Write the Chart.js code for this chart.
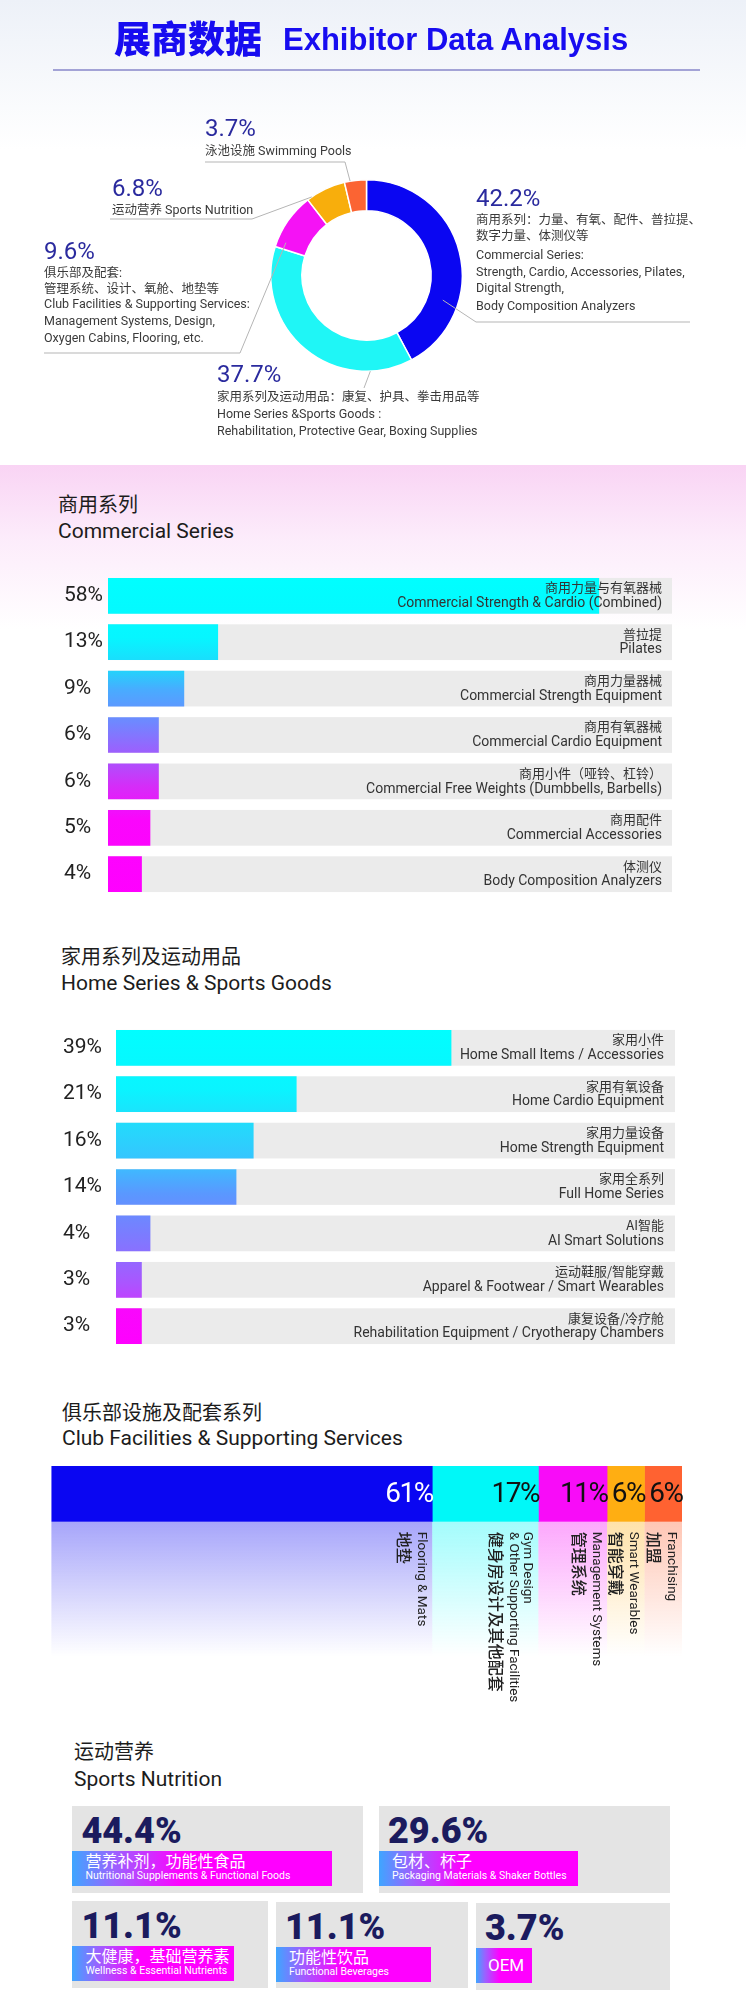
<!DOCTYPE html>
<html><head><meta charset="utf-8">
<script src="https://cdn.jsdelivr.net/npm/chart.js@4.4.0/dist/chart.umd.min.js"></script>
<style>
body{margin:0;background:#fff;}
#page{position:relative;width:746px;height:2000px;overflow:hidden;background:#fff;font-family:Roboto,"Noto Sans CJK SC",sans-serif;color:#1e1e1e;}
.abs{position:absolute;white-space:nowrap;line-height:1;}
canvas{position:absolute;left:0;}
.tile{position:absolute;background:#e4e4e4;}
.chip{position:absolute;left:0;height:35px;background:linear-gradient(90deg,#3ea6ff 0%,#9a62ff 16%,#ff00ff 42%,#ff00ff 100%);color:#fff;}
</style></head>
<body><div id="page">
<div style="position:absolute;left:0;top:0;width:746px;height:150px;background:linear-gradient(#edf1f8,#ffffff)"></div>
<div style="position:absolute;left:0;top:465px;width:746px;height:165px;background:linear-gradient(180deg,#f9d4f4 0%,rgba(251,228,249,0.7) 45%,#ffffff 100%)"></div>
<div style="position:absolute;left:53px;top:69px;width:647px;height:2px;background:#a3a3d6"></div>
<canvas id="donut" width="746" height="460" style="top:0"></canvas>
<canvas id="commercial" width="746" height="350" style="top:560px"></canvas>
<canvas id="home" width="746" height="350" style="top:1012px"></canvas>
<canvas id="club" width="746" height="270" style="top:1460px"></canvas>
</div>
<script>
// ---------------- DATA ----------------
const donutLabels = ['商用系列','家用系列及运动用品','俱乐部及配套','运动营养','泳池设施'];
const donutValues = [42.2, 37.7, 9.6, 6.8, 3.7];
const donutDesc = [
  ['商用系列：力量、有氧、配件、普拉提、','数字力量、体测仪等','Commercial Series:','Strength, Cardio, Accessories, Pilates,','Digital Strength,','Body Composition Analyzers'],
  ['家用系列及运动用品：康复、护具、拳击用品等','Home Series &Sports Goods :','Rehabilitation, Protective Gear, Boxing Supplies'],
  ['俱乐部及配套:','管理系统、设计、氧舱、地垫等','Club Facilities & Supporting Services:','Management Systems, Design,','Oxygen Cabins, Flooring, etc.'],
  ['运动营养 Sports Nutrition'],
  ['泳池设施  Swimming Pools']
];

const commercialZh = ['商用力量与有氧器械','普拉提','商用力量器械','商用有氧器械','商用小件（哑铃、杠铃）','商用配件','体测仪'];
const commercialEn = ['Commercial Strength & Cardio (Combined)','Pilates','Commercial Strength Equipment','Commercial Cardio Equipment','Commercial Free Weights (Dumbbells, Barbells)','Commercial Accessories','Body Composition Analyzers'];
const commercialValues = [58, 13, 9, 6, 6, 5, 4];

const homeZh = ['家用小件','家用有氧设备','家用力量设备','家用全系列','AI智能','运动鞋服/智能穿戴','康复设备/冷疗舱'];
const homeEn = ['Home Small Items / Accessories','Home Cardio Equipment','Home Strength Equipment','Full Home Series','AI Smart Solutions','Apparel & Footwear / Smart Wearables','Rehabilitation Equipment / Cryotherapy Chambers'];
const homeValues = [39, 21, 16, 14, 4, 3, 3];

const clubZh = ['地垫','健身房设计及其他配套','管理系统','智能穿戴','加盟'];
const clubEn = [['Flooring & Mats'],['Gym Design','& Other Supporting Facilities'],['Management Systems'],['Smart Wearables'],['Franchising']];
const clubValues = [61, 17, 11, 6, 6];

const nutritionZh = ['营养补剂，功能性食品','包材、杯子','大健康，基础营养素','功能性饮品','OEM'];
const nutritionEn = ['Nutritional Supplements & Functional Foods','Packaging Materials & Shaker Bottles','Wellness & Essential Nutrients','Functional Beverages',''];
const nutritionValues = [44.4, 29.6, 11.1, 11.1, 3.7];

// ---------------- STYLE / LAYOUT ----------------
const page = document.getElementById('page');
function put(text, left, cy, size, style) {
  const d = document.createElement('div');
  d.className = 'abs'; d.textContent = text;
  d.style.left = left + 'px'; d.style.top = (cy - size / 2) + 'px'; d.style.fontSize = size + 'px';
  Object.assign(d.style, style || {});
  page.appendChild(d); return d;
}
// title
put('展商数据', 114, 37, 37, {fontFamily:'"Noto Sans CJK SC"', fontWeight:'900', color:'#170cf0'});
put('Exhibitor Data Analysis', 283, 39, 31, {fontFamily:'"Liberation Sans",Arial,sans-serif', fontWeight:'700', color:'#170cf0'});

// section headers
const headerStyle = {color:'#1c1c1c'};
put('商用系列', 58, 505, 20, headerStyle); put('Commercial Series', 58, 531, 21, headerStyle);
put('家用系列及运动用品', 61, 957, 20, headerStyle); put('Home Series & Sports Goods', 61, 983, 21, headerStyle);
put('俱乐部设施及配套系列', 62, 1412.5, 20, headerStyle); put('Club Facilities & Supporting Services', 62, 1438, 21, headerStyle);
put('运动营养', 74, 1752, 20, headerStyle); put('Sports Nutrition', 74, 1779, 21, headerStyle);

// donut label layout
const donutColors = ['#0a06f2','#1ff6f6','#f512f5','#f8ae0c','#fb6433'];
const donutLabelLayout = [
  {x:476, pctY:198, ys:[220,236,255,272,288,306]},
  {x:217, pctY:374, ys:[397,414,431]},
  {x:44,  pctY:251, ys:[273,289,304,321,338]},
  {x:112, pctY:187.5, ys:[210]},
  {x:205, pctY:127.5, ys:[151]}
];
donutValues.forEach((v, i) => {
  const L = donutLabelLayout[i];
  put(v.toFixed(1) + '%', L.x, L.pctY, 24, {color:'#2a2a9e'});
  donutDesc[i].forEach((t, k) => put(t, L.x, L.ys[k], 12.5, {color:'#3a3a3a'}));
});
const leaderLayout = [
  {t:0.71, rf:0.5, path:[[476,322],[690,322]]},
  {t:0.19, rf:1.0, path:[[364,388]]},
  {t:0.13, rf:0.72, path:[[240,353],[44,353]]},
  {t:0.12, rf:1.0, path:[[252,219],[110,219]]},
  {t:0.26, rf:1.0, path:[[345,162],[205,162]]}
];
const leaderPlugin = {
  id:'leaders',
  afterDraw(chart) {
    const ctx = chart.ctx, arcs = chart.getDatasetMeta(0).data;
    ctx.save(); ctx.strokeStyle = '#b5b5b5'; ctx.lineWidth = 1;
    arcs.forEach((arc, i) => {
      const p = arc.getProps(['x','y','startAngle','endAngle','innerRadius','outerRadius'], true);
      const L = leaderLayout[i];
      const ang = p.startAngle + L.t * (p.endAngle - p.startAngle);
      const r = p.innerRadius + L.rf * (p.outerRadius - p.innerRadius);
      ctx.beginPath(); ctx.moveTo(p.x + r * Math.cos(ang), p.y + r * Math.sin(ang));
      L.path.forEach(q => ctx.lineTo(q[0], q[1]));
      ctx.stroke();
    });
    ctx.restore();
  }
};
new Chart(document.getElementById('donut'), {
  type:'doughnut',
  data:{labels:donutLabels, datasets:[{data:donutValues, backgroundColor:donutColors, borderColor:'#ffffff', borderWidth:1.5, hoverOffset:0}]},
  options:{responsive:false, animation:false, cutout:'67.5%',
    layout:{padding:{left:270, right:283, top:179, bottom:88}},
    plugins:{legend:{display:false}, tooltip:{enabled:false}}},
  plugins:[leaderPlugin]
});

// ---------------- BAR CHARTS ----------------
function vGradient(chart, stops) {
  const a = chart.chartArea;
  if (!a) return stops[0][1];
  const g = chart.ctx.createLinearGradient(0, a.top, 0, a.bottom);
  stops.forEach(s => g.addColorStop(s[0], s[1]));
  return g;
}
const trackPlugin = {
  id:'track',
  beforeDatasetsDraw(chart) {
    const ctx = chart.ctx, a = chart.chartArea;
    ctx.save(); ctx.fillStyle = '#ebebeb';
    chart.getDatasetMeta(0).data.forEach(b => {
      const p = b.getProps(['y','height'], true);
      ctx.fillRect(a.left, p.y - p.height / 2, a.right - a.left, p.height);
    });
    ctx.restore();
  }
};
const innerLabelPlugin = {
  id:'innerLabels',
  afterDatasetsDraw(chart, args, opts) {
    const ctx = chart.ctx, a = chart.chartArea;
    ctx.save(); ctx.fillStyle = '#333'; ctx.textAlign = 'right'; ctx.textBaseline = 'middle';
    chart.getDatasetMeta(0).data.forEach((b, i) => {
      const y = b.getProps(['y'], true).y;
      ctx.font = '13px "Noto Sans CJK SC"';
      ctx.fillText(opts.zh[i], a.right - opts.inset, y - 8.6);
      ctx.font = '14px Roboto';
      ctx.fillText(opts.en[i], a.right - opts.inset, y + 7.6);
    });
    ctx.restore();
  }
};
function barChart(id, zh, en, values, cfg) {
  return new Chart(document.getElementById(id), {
    type:'bar',
    data:{labels:zh, datasets:[{data:values, borderWidth:0, barPercentage:0.77, categoryPercentage:1,
      backgroundColor:(c) => vGradient(c.chart, cfg.stops)}]},
    options:{indexAxis:'y', responsive:false, animation:false,
      layout:{padding:{left:cfg.labelX, right:746 - cfg.trackRight, top:cfg.padTop, bottom:cfg.padBottom}},
      scales:{
        x:{display:false, min:0, max:cfg.xMax},
        y:{grid:{display:false}, border:{display:false},
           ticks:{crossAlign:'far', padding:0, color:'#222', font:{family:'Roboto', size:21},
                  callback:(v, i) => values[i] + '%'},
           afterFit:(ax) => { ax.width = cfg.trackLeft - cfg.labelX; }}
      },
      plugins:{legend:{display:false}, tooltip:{enabled:false}, innerLabels:{zh:zh, en:en, inset:cfg.inset}}},
    plugins:[trackPlugin, innerLabelPlugin]
  });
}
barChart('commercial', commercialZh, commercialEn, commercialValues, {
  labelX:64, trackLeft:108, trackRight:672, xMax:66.6, padTop:6.2, padBottom:6.4, inset:10,
  stops:[[0,'#00ffff'],[0.2,'#06f6ff'],[0.3,'#22d4fb'],[0.36,'#48acff'],[0.46,'#6f88ff'],[0.56,'#a05cfd'],[0.66,'#d62cf8'],[0.76,'#fa06fc'],[1,'#ff00ff']]
});
barChart('home', homeZh, homeEn, homeValues, {
  labelX:63, trackLeft:116, trackRight:675, xMax:65.0, padTop:6.5, padBottom:6.6, inset:11,
  stops:[[0,'#00ffff'],[0.2,'#0af4ff'],[0.3,'#22dcfb'],[0.42,'#36c4ff'],[0.52,'#5a98ff'],[0.6,'#6f86ff'],[0.7,'#8a70ff'],[0.8,'#ac54ff'],[0.85,'#c240ff'],[0.87,'#f808fc'],[1,'#ff00ff']]
});

// ---------------- CLUB STACKED BAR ----------------
const clubColors = ['#0a06f2','#00f8f8','#f80cf8','#ffae12','#ff6231'];
const clubTextColors = ['#ffffff','#111111','#111111','#111111','#111111'];
function rgba(hex, a) {
  const n = parseInt(hex.slice(1), 16);
  return `rgba(${n >> 16},${(n >> 8) & 255},${n & 255},${a})`;
}
const clubPlugin = {
  id:'clubDeco',
  beforeDatasetsDraw(chart) {
    const ctx = chart.ctx, a = chart.chartArea;
    ctx.save();
    chart.data.datasets.forEach((ds, i) => {
      const b = chart.getDatasetMeta(i).data[0].getProps(['x','base'], true);
      const g = ctx.createLinearGradient(0, a.bottom, 0, a.bottom + 135);
      g.addColorStop(0, rgba(clubColors[i], 0.36));
      g.addColorStop(0.6, rgba(clubColors[i], 0.14));
      g.addColorStop(1, rgba(clubColors[i], 0));
      ctx.fillStyle = g;
      ctx.fillRect(b.base, a.bottom, b.x - b.base, 135);
    });
    ctx.restore();
  },
  afterDatasetsDraw(chart) {
    const ctx = chart.ctx, a = chart.chartArea;
    ctx.save();
    chart.data.datasets.forEach((ds, i) => {
      const b = chart.getDatasetMeta(i).data[0].getProps(['x','y','base'], true);
      // value
      ctx.fillStyle = clubTextColors[i];
      ctx.font = '28px Roboto'; ctx.letterSpacing = '-1.5px';
      ctx.textAlign = 'right'; ctx.textBaseline = 'middle';
      ctx.fillText(clubValues[i] + '%', b.x + 0.5, b.y + 1);
      ctx.letterSpacing = '0px';
      // vertical labels
      ctx.fillStyle = '#222'; ctx.textAlign = 'left';
      let col = b.x - 11;
      const startY = a.bottom + 10;
      clubEn[i].forEach(t => {
        ctx.save(); ctx.translate(col, startY); ctx.rotate(Math.PI / 2);
        ctx.font = '13.5px Roboto'; ctx.fillText(t, 0, 0); ctx.restore();
        col -= 14;
      });
      col -= 3;
      ctx.save(); ctx.translate(col, startY); ctx.rotate(Math.PI / 2);
      ctx.font = '500 16px "Noto Sans CJK SC"'; ctx.fillText(clubZh[i], 0, 0); ctx.restore();
    });
    ctx.restore();
  }
};
const clubSum = clubValues.reduce((s, v) => s + v, 0);
new Chart(document.getElementById('club'), {
  type:'bar',
  data:{labels:['俱乐部设施及配套系列'], datasets:clubValues.map((v, i) => ({
    label:clubZh[i], data:[v], backgroundColor:clubColors[i], borderWidth:0, barPercentage:1, categoryPercentage:1}))},
  options:{indexAxis:'y', responsive:false, animation:false,
    layout:{padding:{left:51.4, right:64, top:6, bottom:208.3}},
    scales:{x:{display:false, stacked:true, min:0, max:clubSum}, y:{display:false, stacked:true}},
    plugins:{legend:{display:false}, tooltip:{enabled:false}}},
  plugins:[clubPlugin]
});

// ---------------- SPORTS NUTRITION TILES ----------------
const tileLayout = [
  {x:72.4, y:1806, w:291, h:87, chipW:260},
  {x:379, y:1806, w:290.5, h:87, chipW:199},
  {x:72.4, y:1901, w:195.6, h:87, chipW:162},
  {x:276, y:1902, w:192, h:86, chipW:155},
  {x:476, y:1903, w:193.5, h:87, chipW:56}
];
nutritionValues.forEach((v, i) => {
  const L = tileLayout[i];
  const t = document.createElement('div'); t.className = 'tile';
  Object.assign(t.style, {left:L.x + 'px', top:L.y + 'px', width:L.w + 'px', height:L.h + 'px'});
  const pct = document.createElement('div'); pct.className = 'abs'; pct.textContent = v.toFixed(1) + '%';
  Object.assign(pct.style, {left:'9px', top:(24.5 - 18) + 'px', fontSize:'36px', fontWeight:'900', color:'#1b1b5e', fontFamily:'Roboto'});
  t.appendChild(pct);
  const chip = document.createElement('div'); chip.className = 'chip';
  Object.assign(chip.style, {top:'45px', width:L.chipW + 'px'});
  if (nutritionEn[i]) {
    const z = document.createElement('div'); z.className = 'abs'; z.textContent = nutritionZh[i];
    Object.assign(z.style, {left:'13px', top:(10.7 - 8) + 'px', fontSize:'16px'});
    const e = document.createElement('div'); e.className = 'abs'; e.textContent = nutritionEn[i];
    Object.assign(e.style, {left:'13px', top:(25.7 - 5.25) + 'px', fontSize:'10.5px'});
    chip.appendChild(z); chip.appendChild(e);
  } else {
    const z = document.createElement('div'); z.className = 'abs'; z.textContent = nutritionZh[i];
    Object.assign(z.style, {left:'12px', top:(17 - 8.5) + 'px', fontSize:'17px'});
    chip.appendChild(z);
  }
  t.appendChild(chip);
  page.appendChild(t);
});
</script>
</body></html>
